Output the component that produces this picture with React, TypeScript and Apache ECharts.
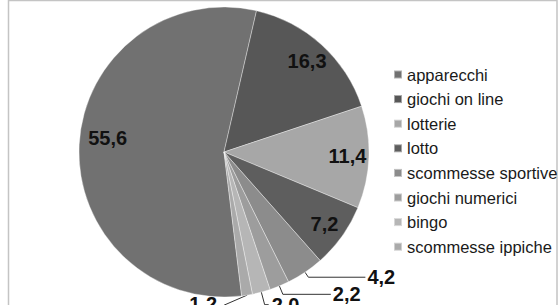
import React, { useEffect, useRef } from "react";
import * as echarts from "echarts";

// ---- data ----
const categories = [
  "apparecchi",
  "giochi on line",
  "lotterie",
  "lotto",
  "scommesse sportive",
  "giochi numerici",
  "bingo",
  "scommesse ippiche",
];
const values = [55.6, 16.3, 11.4, 7.2, 4.2, 2.2, 2.0, 1.2];

// ---- styles ----
const colors = ["#717171", "#575757", "#a7a7a7", "#5e5e5e", "#8c8c8c", "#9d9d9d", "#b6b6b6", "#aaaaaa"];
const insideLabelCount = 4;
// [length, length2, distance] for outside label lines
const outsideLines: Record<number, [number, number, number]> = {
  4: [6, 57, 2],
  5: [9, 48, 2],
  6: [13, 4, 3],
  7: [8, 4, 3],
};
const FONT = "'Liberation Sans', Arial, sans-serif";

const fmt = (v: number) => v.toFixed(1).replace(".", ",");

export default function App() {
  const ref = useRef<HTMLDivElement>(null);
  useEffect(() => {
    if (!ref.current) return;
    const chart = echarts.init(ref.current, undefined, { renderer: "svg" });
    const center = [224, 152];
    const R = 145;
    const startAngle = 277;

    const mainData = categories.map((name, i) => {
      const isOutside = i >= insideLabelCount;
      const cfg = outsideLines[i];
      return {
        name,
        value: values[i],
        itemStyle: { color: colors[i] },
        label: isOutside
          ? { show: true, position: "outside", distanceToLabelLine: cfg[2] }
          : { show: false },
        labelLine: isOutside
          ? { show: true, length: cfg[0], length2: cfg[1] }
          : { show: false },
      };
    });

    const overlayData = categories.map((name, i) => ({
      name,
      value: values[i],
      itemStyle: { color: "rgba(0,0,0,0)", borderWidth: 0 },
      label: { show: i < insideLabelCount },
    }));

    chart.setOption({
      animation: false,
      textStyle: { fontFamily: FONT },
      graphic: [
        {
          type: "rect",
          shape: { x: 8.5, y: 0.5, width: 548.5, height: 360 },
          style: { fill: "none", stroke: "#c4c4c4", lineWidth: 1.5 },
          silent: true,
          z: 0,
        },
      ],
      legend: {
        data: categories,
        orient: "vertical",
        left: 388,
        top: 61,
        itemWidth: 8,
        itemHeight: 8,
        itemGap: 7.6,
        icon: "rect",
        selectedMode: false,
        textStyle: { fontSize: 16.5, color: "#1a1a1a", fontFamily: FONT, lineHeight: 16.7 },
      },
      series: [
        {
          type: "pie",
          center,
          radius: R,
          startAngle,
          clockwise: true,
          avoidLabelOverlap: false,
          silent: true,
          itemStyle: { borderColor: "rgba(255,255,255,0.45)", borderWidth: 0.8 },
          label: {
            fontSize: 20,
            fontWeight: "bold",
            color: "#111",
            fontFamily: FONT,
            formatter: (p: any) => fmt(p.value),
          },
          labelLine: { lineStyle: { color: "#333", width: 1 } },
          labelLayout: (p: any) => {
            if (p.dataIndex !== 7 || !p.labelLinePoints) return {};
            const a = p.labelLinePoints[0];
            return {
              x: a[0] - 30,
              y: a[1] + 9,
              align: "right",
              labelLinePoints: [a, [a[0] - 23, a[1] + 10]],
            };
          },
          data: mainData,
        },
        {
          type: "pie",
          center,
          radius: [96, R],
          startAngle,
          clockwise: true,
          avoidLabelOverlap: false,
          silent: true,
          emphasis: { disabled: true },
          label: {
            position: "inside",
            fontSize: 20,
            fontWeight: "bold",
            color: "#111",
            fontFamily: FONT,
            formatter: (p: any) => fmt(p.value),
          },
          labelLine: { show: false },
          labelLayout: (p: any) => (p.dataIndex === 0 ? { dx: 7, dy: -8 } : {}),
          data: overlayData,
        },
      ],
    });
    return () => chart.dispose();
  }, []);
  return (
    <div
      ref={ref}
      style={{ position: "fixed", left: 0, top: 0, width: 560, height: 345, background: "#fff" }}
    />
  );
}
